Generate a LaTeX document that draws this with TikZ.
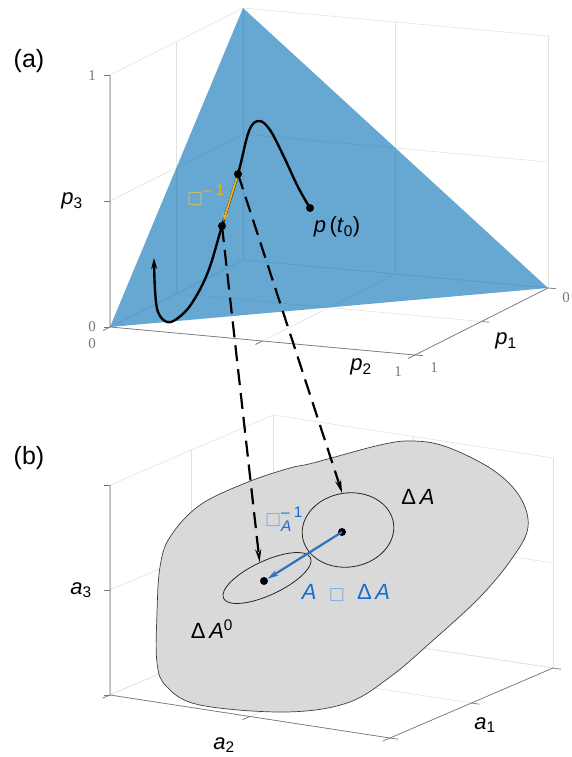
\documentclass[tikz,border=0pt]{standalone}
\usepackage{amsmath}
\usepackage{fontspec}
\setmainfont{Liberation Sans}
\newfontfamily\tickfont{Liberation Serif}
\newfontfamily\boxfont{DejaVu Sans}
\usetikzlibrary{arrows.meta, shapes.geometric}

\definecolor{simplexblue}{RGB}{0,110,180}
\definecolor{gridgray}{RGB}{226,226,226}
\definecolor{axisgray}{RGB}{120,120,120}
\definecolor{blobgray}{RGB}{217,217,217}
\definecolor{flowyellow}{RGB}{237,177,32}
\definecolor{boxyellow}{RGB}{205,190,110}
\definecolor{mapblue}{RGB}{45,115,190}
\definecolor{labelblue}{RGB}{20,110,205}
\definecolor{boxblue}{RGB}{130,170,225}

\tikzset{
  grid line/.style={gridgray, line width=0.6pt},
  axis line/.style={axisgray, line width=0.7pt},
  simplex/.style={simplexblue, fill opacity=0.6},
  tick label/.style={font=\tickfont\fontsize{15}{15}\selectfont, axisgray, inner sep=0pt},
  axis label/.style={font=\fontsize{22}{24}\selectfont, inner sep=0pt},
  panel label/.style={font=\fontsize{25}{27}\selectfont, inner sep=0pt},
  dot/.style={circle, fill=black, inner sep=0pt, minimum size=8pt},
  traj/.style={line width=2.4pt},
  projection/.style={line width=2.2pt, dash pattern=on 16pt off 8pt,
    -{Stealth[length=13pt, width=6pt]}},
  region/.style={draw=black!85, ellipse, inner sep=0pt, line width=0.8pt},
}

\begin{document}
\begin{tikzpicture}[x=1pt, y=-1pt]
  \useasboundingbox (0,0) rectangle (572,757);

  % Panel (a): grid, simplex and axes
  \begin{scope}[shift={(243,260)}, x={(-133pt,-67pt)}, y={(305pt,-28pt)}, z={(0pt,252pt)}]
    \foreach \lev in {0,0.5,1} {
      \draw[grid line] (1,0,\lev) -- (0,0,\lev) -- (0,1,\lev);
      \draw[grid line] (\lev,0,0) -- (\lev,0,1);
      \draw[grid line] (0,\lev,0) -- (0,\lev,1);
      \draw[grid line] (\lev,0,0) -- (\lev,1,0);
      \draw[grid line] (0,\lev,0) -- (1,\lev,0);
    }
    \coordinate (s1) at (1,0,0);
    \coordinate (s2) at (0,1,0);
    \coordinate (s3) at (0,0,1);
    \fill[simplex] (s1) -- (s2) -- (s3) -- cycle;
    \draw[axis line] (1,0,1) -- (1,0,0) -- (1,1,0) -- (0,1,0);
    \foreach \lev in {0,0.5,1} {
      \draw[axis line] (1,0,\lev) -- ++(-6pt,0pt);
      \draw[axis line] (1,\lev,0) -- ++(-7pt,-3.5pt);
      \draw[axis line] (\lev,1,0) -- ++(8pt,-0.7pt);
    }
  \end{scope}

  % Panel (b): grid, parameter region and axes
  \begin{scope}[shift={(273,625)}, x={(-163pt,-70pt)}, y={(280pt,-43pt)}, z={(0pt,210pt)}]
    \foreach \lev in {0,0.5,1} {
      \draw[grid line] (1,0,\lev) -- (0,0,\lev) -- (0,1,\lev);
      \draw[grid line] (\lev,0,0) -- (\lev,0,1);
      \draw[grid line] (0,\lev,0) -- (0,\lev,1);
      \draw[grid line] (\lev,0,0) -- (\lev,1,0);
      \draw[grid line] (0,\lev,0) -- (1,\lev,0);
    }
  \end{scope}
  \draw[black!75, fill=blobgray, line width=0.7pt] plot[smooth cycle, tension=0.6] coordinates {
    (290,468) (248,482) (200,505) (170,537) (160,567) (157,613) (157,663)
    (167,687) (200,705) (285,712) (347,703) (390,677) (430,643) (480,597)
    (513,557) (528,527) (520,497) (493,470) (447,447) (413,441) (380,445) (313,463)};
  \begin{scope}[shift={(273,625)}, x={(-163pt,-70pt)}, y={(280pt,-43pt)}, z={(0pt,210pt)}]
    \draw[axis line] (1,0,1) -- (1,0,0) -- (1,1,0) -- (0,1,0);
    \foreach \lev in {0,0.5,1} {
      \draw[axis line] (1,0,\lev) -- ++(-6pt,0pt);
      \draw[axis line] (1,\lev,0) -- ++(-7.4pt,-3.1pt);
      \draw[axis line] (\lev,1,0) -- ++(7.9pt,-1.2pt);
    }
  \end{scope}

  % Neighbourhoods in parameter space
  \node[region, minimum width=92pt, minimum height=74pt, rotate=9] (dA) at (348,530) {};
  \node[region, minimum width=96pt, minimum height=34pt, rotate=25] (dA0) at (267,578) {};

  % Points
  \node[dot] (pt0) at (310,208) {};
  \node[dot] (pa) at (238,174) {};
  \node[dot] (pb) at (222,226) {};
  \node[dot] (qa) at (342,532) {};
  \node[dot] (qb) at (264,581) {};

  % Trajectory
  \draw[traj, -{Stealth[length=11pt, width=6pt]}] plot[smooth, tension=0.6] coordinates {
    (pt0.center) (298,187) (284,157) (270,130) (259,121) (249,131) (pa.center) (pb.center)
    (208,272) (192,303) (178,318) (167,322) (158,312) (155,290) (154,258)};
  \draw[flowyellow, line width=2pt, -{Stealth[length=9pt, width=5pt]}] (pa) -- (pb);

  % Projections
  \draw[projection] (pb.center) -- (dA0.north);
  \draw[projection] (pa.center) -- (dA.north);
  \draw[mapblue, line width=2.2pt, -{Stealth[length=11pt, width=6pt]}] (qa.center) -- (qb);

  % Labels
  \node[panel label] (lab a) at (29,61) {(a)};
  \node[panel label] (lab b) at (29,458) {(b)};
  \node[tick label] (t31) at (92,76) {1};
  \node[tick label] (t30) at (92,327) {0};
  \node[tick label] (t20) at (92,344) {0};
  \node[tick label] (t21) at (398,372) {1};
  \node[tick label] (t11) at (434,368) {1};
  \node[tick label] (t10) at (566,298) {0};
  \node[axis label] (p3) at (72,201) {\textit{p}\textsubscript{3}};
  \node[axis label] (p2) at (361,367) {\textit{p}\textsubscript{2}};
  \node[axis label] (p1) at (506,341) {\textit{p}\textsubscript{1}};
  \node[axis label] (a3) at (81,590) {\textit{a}\textsubscript{3}};
  \node[axis label] (a2) at (224,745) {\textit{a}\textsubscript{2}};
  \node[axis label] (a1) at (485,725) {\textit{a}\textsubscript{1}};
  \node[axis label] (lab pt0) at (337,227) {\textit{p}\,(\textit{t}\textsubscript{0})};
  \node[axis label] (lab dA) at (418,497) {Δ\,\textit{A}};
  \node[axis label] (lab dA0) at (212,629) {Δ\,\textit{A}\textsuperscript{0}};
  \node[axis label, flowyellow] (lab flow) at (206,195)
    {{\boxfont\color{boxyellow}\fontsize{17}{17}\selectfont □}$^{\text{– 1}}$};
  \node[axis label, labelblue] (lab inv) at (284,519)
    {{\boxfont\color{boxblue}\fontsize{17}{17}\selectfont □}$^{\text{– 1}}_{\textit{A}}$};
  \node[axis label, labelblue] (lab map) at (346,593)
    {\textit{A}\ \ {\boxfont\color{boxblue}\fontsize{17}{17}\selectfont □}\ \ Δ\,\textit{A}};
\end{tikzpicture}
\end{document}
